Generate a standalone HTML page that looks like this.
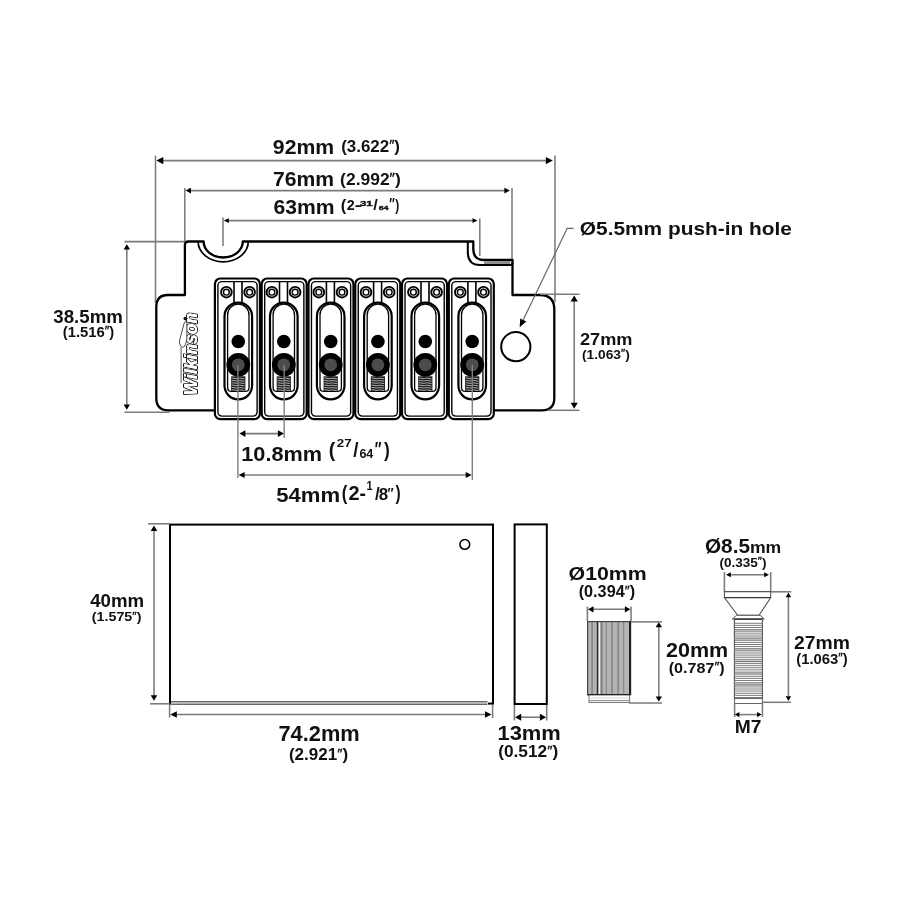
<!DOCTYPE html>
<html><head><meta charset="utf-8"><style>
html,body{margin:0;padding:0;background:#fff;}
svg{display:block;filter:grayscale(1);}
text{font-family:"Liberation Sans",sans-serif;}
</style></head><body>
<svg width="899" height="899" viewBox="0 0 899 899">
<rect width="899" height="899" fill="#fff"/>
<line x1="155.5" y1="155.5" x2="155.5" y2="303" stroke="#7b7b7b" stroke-width="1.55" />
<line x1="555.0" y1="155.5" x2="555.0" y2="302" stroke="#7b7b7b" stroke-width="1.55" />
<line x1="160.5" y1="160.6" x2="548.5999999999999" y2="160.6" stroke="#7b7b7b" stroke-width="1.55" />
<polygon points="156.30,160.60 163.30,157.00 163.30,164.20" fill="#000"/>
<polygon points="552.80,160.60 545.80,157.00 545.80,164.20" fill="#000"/>
<line x1="184.8" y1="188" x2="184.8" y2="242" stroke="#7b7b7b" stroke-width="1.55" />
<line x1="512.0" y1="188" x2="512.0" y2="260" stroke="#7b7b7b" stroke-width="1.55" />
<line x1="188.8" y1="190.6" x2="506.59999999999997" y2="190.6" stroke="#7b7b7b" stroke-width="1.55" />
<polygon points="185.50,190.60 191.00,187.80 191.00,193.40" fill="#000"/>
<polygon points="509.90,190.60 504.40,187.80 504.40,193.40" fill="#000"/>
<line x1="223.0" y1="217.5" x2="223.0" y2="246" stroke="#7b7b7b" stroke-width="1.55" />
<line x1="479.8" y1="218.5" x2="479.8" y2="256" stroke="#7b7b7b" stroke-width="1.55" />
<line x1="226.8" y1="220.6" x2="474.5" y2="220.6" stroke="#7b7b7b" stroke-width="1.55" />
<polygon points="223.80,220.60 228.80,218.20 228.80,223.00" fill="#000"/>
<polygon points="477.50,220.60 472.50,218.20 472.50,223.00" fill="#000"/>
<path d="M 215,410.3 L 168,410.3 Q 156.3,410.3 156.3,398 L 156.3,307 Q 156.3,295 168,295 L 184.9,295 L 184.9,245 Q 184.9,241.5 188.5,241.5 L 203.6,241.5 A 19.6 16.0 0 0 0 242.8,241.5 L 473.3,241.5 L 473.3,249 Q 473.3,260 484,260 L 512.5,260 L 512.5,295 L 540,295 Q 554.3,295 554.3,309.5 L 554.3,398 Q 554.3,410.3 542,410.3 L 494,410.3" fill="#fff" stroke="#000" stroke-width="2.3" stroke-linejoin="round"/>
<path d="M 198.1,241.5 A 25.1 20.3 0 0 0 248.3,241.5" fill="none" stroke="#000" stroke-width="1.7"/>
<path d="M 467.8,241.5 L 467.8,252 Q 467.8,265 480,265 L 510,265 Q 512.5,265 512.5,262.5" fill="none" stroke="#000" stroke-width="2"/>
<rect x="484" y="261.3" width="26" height="2.6" fill="#8a8a8a"/>
<rect x="214.90" y="278.5" width="45.0" height="140.7" rx="5.5" fill="#fff" stroke="#000" stroke-width="2.2"/>
<rect x="217.90" y="281.6" width="39.2" height="134.5" rx="4" fill="none" stroke="#000" stroke-width="1.4"/>
<circle cx="226.40" cy="292.2" r="5.3" fill="#fff" stroke="#000" stroke-width="1.9"/>
<circle cx="226.40" cy="292.2" r="2.9" fill="#fff" stroke="#000" stroke-width="1.4"/>
<circle cx="249.60" cy="292.2" r="5.3" fill="#fff" stroke="#000" stroke-width="1.9"/>
<circle cx="249.60" cy="292.2" r="2.9" fill="#fff" stroke="#000" stroke-width="1.4"/>
<line x1="234.00" y1="281.6" x2="234.00" y2="302.5" stroke="#000" stroke-width="1.6"/>
<line x1="242.00" y1="281.6" x2="242.00" y2="302.5" stroke="#000" stroke-width="1.6"/>
<rect x="224.50" y="302.6" width="27.60" height="96.80" rx="13.8" fill="#fff" stroke="#000" stroke-width="2.2"/>
<path d="M 227.60,314.90 A 10.7 10.7 0 0 1 249.00,314.90 L 249.00,387.4 Q 249.00,391.4 245.00,391.4 L 231.60,391.4 Q 227.60,391.4 227.60,387.4 Z" fill="#fff" stroke="#000" stroke-width="1.3"/>
<rect x="231.20" y="376.3" width="14.2" height="14.8" fill="#1c1c1c"/>
<path d="M 232.00,378.00 L 237.20,378.70 L 239.70,378.10 L 244.60,378.90" fill="none" stroke="#d0d0d0" stroke-width="0.8"/>
<path d="M 232.00,380.35 L 237.20,381.05 L 239.70,380.45 L 244.60,381.25" fill="none" stroke="#d0d0d0" stroke-width="0.8"/>
<path d="M 232.00,382.70 L 237.20,383.40 L 239.70,382.80 L 244.60,383.60" fill="none" stroke="#d0d0d0" stroke-width="0.8"/>
<path d="M 232.00,385.05 L 237.20,385.75 L 239.70,385.15 L 244.60,385.95" fill="none" stroke="#d0d0d0" stroke-width="0.8"/>
<path d="M 232.00,387.40 L 237.20,388.10 L 239.70,387.50 L 244.60,388.30" fill="none" stroke="#d0d0d0" stroke-width="0.8"/>
<path d="M 232.00,389.75 L 237.20,390.45 L 239.70,389.85 L 244.60,390.65" fill="none" stroke="#d0d0d0" stroke-width="0.8"/>
<circle cx="238.30" cy="341.5" r="6.8" fill="#000"/>
<circle cx="238.30" cy="364.8" r="11.9" fill="#000"/>
<circle cx="238.30" cy="364.8" r="6.4" fill="#4c4c4c"/>
<rect x="261.68" y="278.5" width="45.0" height="140.7" rx="5.5" fill="#fff" stroke="#000" stroke-width="2.2"/>
<rect x="264.68" y="281.6" width="39.2" height="134.5" rx="4" fill="none" stroke="#000" stroke-width="1.4"/>
<circle cx="271.90" cy="292.2" r="5.3" fill="#fff" stroke="#000" stroke-width="1.9"/>
<circle cx="271.90" cy="292.2" r="2.9" fill="#fff" stroke="#000" stroke-width="1.4"/>
<circle cx="295.10" cy="292.2" r="5.3" fill="#fff" stroke="#000" stroke-width="1.9"/>
<circle cx="295.10" cy="292.2" r="2.9" fill="#fff" stroke="#000" stroke-width="1.4"/>
<line x1="279.50" y1="281.6" x2="279.50" y2="302.5" stroke="#000" stroke-width="1.6"/>
<line x1="287.50" y1="281.6" x2="287.50" y2="302.5" stroke="#000" stroke-width="1.6"/>
<rect x="270.00" y="302.6" width="27.60" height="96.80" rx="13.8" fill="#fff" stroke="#000" stroke-width="2.2"/>
<path d="M 273.10,314.90 A 10.7 10.7 0 0 1 294.50,314.90 L 294.50,387.4 Q 294.50,391.4 290.50,391.4 L 277.10,391.4 Q 273.10,391.4 273.10,387.4 Z" fill="#fff" stroke="#000" stroke-width="1.3"/>
<rect x="276.70" y="376.3" width="14.2" height="14.8" fill="#1c1c1c"/>
<path d="M 277.50,378.00 L 282.70,378.70 L 285.20,378.10 L 290.10,378.90" fill="none" stroke="#d0d0d0" stroke-width="0.8"/>
<path d="M 277.50,380.35 L 282.70,381.05 L 285.20,380.45 L 290.10,381.25" fill="none" stroke="#d0d0d0" stroke-width="0.8"/>
<path d="M 277.50,382.70 L 282.70,383.40 L 285.20,382.80 L 290.10,383.60" fill="none" stroke="#d0d0d0" stroke-width="0.8"/>
<path d="M 277.50,385.05 L 282.70,385.75 L 285.20,385.15 L 290.10,385.95" fill="none" stroke="#d0d0d0" stroke-width="0.8"/>
<path d="M 277.50,387.40 L 282.70,388.10 L 285.20,387.50 L 290.10,388.30" fill="none" stroke="#d0d0d0" stroke-width="0.8"/>
<path d="M 277.50,389.75 L 282.70,390.45 L 285.20,389.85 L 290.10,390.65" fill="none" stroke="#d0d0d0" stroke-width="0.8"/>
<circle cx="283.80" cy="341.5" r="6.8" fill="#000"/>
<circle cx="283.80" cy="364.8" r="11.9" fill="#000"/>
<circle cx="283.80" cy="364.8" r="6.4" fill="#4c4c4c"/>
<rect x="308.46" y="278.5" width="45.0" height="140.7" rx="5.5" fill="#fff" stroke="#000" stroke-width="2.2"/>
<rect x="311.46" y="281.6" width="39.2" height="134.5" rx="4" fill="none" stroke="#000" stroke-width="1.4"/>
<circle cx="318.80" cy="292.2" r="5.3" fill="#fff" stroke="#000" stroke-width="1.9"/>
<circle cx="318.80" cy="292.2" r="2.9" fill="#fff" stroke="#000" stroke-width="1.4"/>
<circle cx="342.00" cy="292.2" r="5.3" fill="#fff" stroke="#000" stroke-width="1.9"/>
<circle cx="342.00" cy="292.2" r="2.9" fill="#fff" stroke="#000" stroke-width="1.4"/>
<line x1="326.40" y1="281.6" x2="326.40" y2="302.5" stroke="#000" stroke-width="1.6"/>
<line x1="334.40" y1="281.6" x2="334.40" y2="302.5" stroke="#000" stroke-width="1.6"/>
<rect x="316.90" y="302.6" width="27.60" height="96.80" rx="13.8" fill="#fff" stroke="#000" stroke-width="2.2"/>
<path d="M 320.00,314.90 A 10.7 10.7 0 0 1 341.40,314.90 L 341.40,387.4 Q 341.40,391.4 337.40,391.4 L 324.00,391.4 Q 320.00,391.4 320.00,387.4 Z" fill="#fff" stroke="#000" stroke-width="1.3"/>
<rect x="323.60" y="376.3" width="14.2" height="14.8" fill="#1c1c1c"/>
<path d="M 324.40,378.00 L 329.60,378.70 L 332.10,378.10 L 337.00,378.90" fill="none" stroke="#d0d0d0" stroke-width="0.8"/>
<path d="M 324.40,380.35 L 329.60,381.05 L 332.10,380.45 L 337.00,381.25" fill="none" stroke="#d0d0d0" stroke-width="0.8"/>
<path d="M 324.40,382.70 L 329.60,383.40 L 332.10,382.80 L 337.00,383.60" fill="none" stroke="#d0d0d0" stroke-width="0.8"/>
<path d="M 324.40,385.05 L 329.60,385.75 L 332.10,385.15 L 337.00,385.95" fill="none" stroke="#d0d0d0" stroke-width="0.8"/>
<path d="M 324.40,387.40 L 329.60,388.10 L 332.10,387.50 L 337.00,388.30" fill="none" stroke="#d0d0d0" stroke-width="0.8"/>
<path d="M 324.40,389.75 L 329.60,390.45 L 332.10,389.85 L 337.00,390.65" fill="none" stroke="#d0d0d0" stroke-width="0.8"/>
<circle cx="330.70" cy="341.5" r="6.8" fill="#000"/>
<circle cx="330.70" cy="364.8" r="11.9" fill="#000"/>
<circle cx="330.70" cy="364.8" r="6.4" fill="#4c4c4c"/>
<rect x="355.24" y="278.5" width="45.0" height="140.7" rx="5.5" fill="#fff" stroke="#000" stroke-width="2.2"/>
<rect x="358.24" y="281.6" width="39.2" height="134.5" rx="4" fill="none" stroke="#000" stroke-width="1.4"/>
<circle cx="366.00" cy="292.2" r="5.3" fill="#fff" stroke="#000" stroke-width="1.9"/>
<circle cx="366.00" cy="292.2" r="2.9" fill="#fff" stroke="#000" stroke-width="1.4"/>
<circle cx="389.20" cy="292.2" r="5.3" fill="#fff" stroke="#000" stroke-width="1.9"/>
<circle cx="389.20" cy="292.2" r="2.9" fill="#fff" stroke="#000" stroke-width="1.4"/>
<line x1="373.60" y1="281.6" x2="373.60" y2="302.5" stroke="#000" stroke-width="1.6"/>
<line x1="381.60" y1="281.6" x2="381.60" y2="302.5" stroke="#000" stroke-width="1.6"/>
<rect x="364.10" y="302.6" width="27.60" height="96.80" rx="13.8" fill="#fff" stroke="#000" stroke-width="2.2"/>
<path d="M 367.20,314.90 A 10.7 10.7 0 0 1 388.60,314.90 L 388.60,387.4 Q 388.60,391.4 384.60,391.4 L 371.20,391.4 Q 367.20,391.4 367.20,387.4 Z" fill="#fff" stroke="#000" stroke-width="1.3"/>
<rect x="370.80" y="376.3" width="14.2" height="14.8" fill="#1c1c1c"/>
<path d="M 371.60,378.00 L 376.80,378.70 L 379.30,378.10 L 384.20,378.90" fill="none" stroke="#d0d0d0" stroke-width="0.8"/>
<path d="M 371.60,380.35 L 376.80,381.05 L 379.30,380.45 L 384.20,381.25" fill="none" stroke="#d0d0d0" stroke-width="0.8"/>
<path d="M 371.60,382.70 L 376.80,383.40 L 379.30,382.80 L 384.20,383.60" fill="none" stroke="#d0d0d0" stroke-width="0.8"/>
<path d="M 371.60,385.05 L 376.80,385.75 L 379.30,385.15 L 384.20,385.95" fill="none" stroke="#d0d0d0" stroke-width="0.8"/>
<path d="M 371.60,387.40 L 376.80,388.10 L 379.30,387.50 L 384.20,388.30" fill="none" stroke="#d0d0d0" stroke-width="0.8"/>
<path d="M 371.60,389.75 L 376.80,390.45 L 379.30,389.85 L 384.20,390.65" fill="none" stroke="#d0d0d0" stroke-width="0.8"/>
<circle cx="377.90" cy="341.5" r="6.8" fill="#000"/>
<circle cx="377.90" cy="364.8" r="11.9" fill="#000"/>
<circle cx="377.90" cy="364.8" r="6.4" fill="#4c4c4c"/>
<rect x="402.02" y="278.5" width="45.0" height="140.7" rx="5.5" fill="#fff" stroke="#000" stroke-width="2.2"/>
<rect x="405.02" y="281.6" width="39.2" height="134.5" rx="4" fill="none" stroke="#000" stroke-width="1.4"/>
<circle cx="413.40" cy="292.2" r="5.3" fill="#fff" stroke="#000" stroke-width="1.9"/>
<circle cx="413.40" cy="292.2" r="2.9" fill="#fff" stroke="#000" stroke-width="1.4"/>
<circle cx="436.60" cy="292.2" r="5.3" fill="#fff" stroke="#000" stroke-width="1.9"/>
<circle cx="436.60" cy="292.2" r="2.9" fill="#fff" stroke="#000" stroke-width="1.4"/>
<line x1="421.00" y1="281.6" x2="421.00" y2="302.5" stroke="#000" stroke-width="1.6"/>
<line x1="429.00" y1="281.6" x2="429.00" y2="302.5" stroke="#000" stroke-width="1.6"/>
<rect x="411.50" y="302.6" width="27.60" height="96.80" rx="13.8" fill="#fff" stroke="#000" stroke-width="2.2"/>
<path d="M 414.60,314.90 A 10.7 10.7 0 0 1 436.00,314.90 L 436.00,387.4 Q 436.00,391.4 432.00,391.4 L 418.60,391.4 Q 414.60,391.4 414.60,387.4 Z" fill="#fff" stroke="#000" stroke-width="1.3"/>
<rect x="418.20" y="376.3" width="14.2" height="14.8" fill="#1c1c1c"/>
<path d="M 419.00,378.00 L 424.20,378.70 L 426.70,378.10 L 431.60,378.90" fill="none" stroke="#d0d0d0" stroke-width="0.8"/>
<path d="M 419.00,380.35 L 424.20,381.05 L 426.70,380.45 L 431.60,381.25" fill="none" stroke="#d0d0d0" stroke-width="0.8"/>
<path d="M 419.00,382.70 L 424.20,383.40 L 426.70,382.80 L 431.60,383.60" fill="none" stroke="#d0d0d0" stroke-width="0.8"/>
<path d="M 419.00,385.05 L 424.20,385.75 L 426.70,385.15 L 431.60,385.95" fill="none" stroke="#d0d0d0" stroke-width="0.8"/>
<path d="M 419.00,387.40 L 424.20,388.10 L 426.70,387.50 L 431.60,388.30" fill="none" stroke="#d0d0d0" stroke-width="0.8"/>
<path d="M 419.00,389.75 L 424.20,390.45 L 426.70,389.85 L 431.60,390.65" fill="none" stroke="#d0d0d0" stroke-width="0.8"/>
<circle cx="425.30" cy="341.5" r="6.8" fill="#000"/>
<circle cx="425.30" cy="364.8" r="11.9" fill="#000"/>
<circle cx="425.30" cy="364.8" r="6.4" fill="#4c4c4c"/>
<rect x="448.80" y="278.5" width="45.0" height="140.7" rx="5.5" fill="#fff" stroke="#000" stroke-width="2.2"/>
<rect x="451.80" y="281.6" width="39.2" height="134.5" rx="4" fill="none" stroke="#000" stroke-width="1.4"/>
<circle cx="460.30" cy="292.2" r="5.3" fill="#fff" stroke="#000" stroke-width="1.9"/>
<circle cx="460.30" cy="292.2" r="2.9" fill="#fff" stroke="#000" stroke-width="1.4"/>
<circle cx="483.50" cy="292.2" r="5.3" fill="#fff" stroke="#000" stroke-width="1.9"/>
<circle cx="483.50" cy="292.2" r="2.9" fill="#fff" stroke="#000" stroke-width="1.4"/>
<line x1="467.90" y1="281.6" x2="467.90" y2="302.5" stroke="#000" stroke-width="1.6"/>
<line x1="475.90" y1="281.6" x2="475.90" y2="302.5" stroke="#000" stroke-width="1.6"/>
<rect x="458.40" y="302.6" width="27.60" height="96.80" rx="13.8" fill="#fff" stroke="#000" stroke-width="2.2"/>
<path d="M 461.50,314.90 A 10.7 10.7 0 0 1 482.90,314.90 L 482.90,387.4 Q 482.90,391.4 478.90,391.4 L 465.50,391.4 Q 461.50,391.4 461.50,387.4 Z" fill="#fff" stroke="#000" stroke-width="1.3"/>
<rect x="465.10" y="376.3" width="14.2" height="14.8" fill="#1c1c1c"/>
<path d="M 465.90,378.00 L 471.10,378.70 L 473.60,378.10 L 478.50,378.90" fill="none" stroke="#d0d0d0" stroke-width="0.8"/>
<path d="M 465.90,380.35 L 471.10,381.05 L 473.60,380.45 L 478.50,381.25" fill="none" stroke="#d0d0d0" stroke-width="0.8"/>
<path d="M 465.90,382.70 L 471.10,383.40 L 473.60,382.80 L 478.50,383.60" fill="none" stroke="#d0d0d0" stroke-width="0.8"/>
<path d="M 465.90,385.05 L 471.10,385.75 L 473.60,385.15 L 478.50,385.95" fill="none" stroke="#d0d0d0" stroke-width="0.8"/>
<path d="M 465.90,387.40 L 471.10,388.10 L 473.60,387.50 L 478.50,388.30" fill="none" stroke="#d0d0d0" stroke-width="0.8"/>
<path d="M 465.90,389.75 L 471.10,390.45 L 473.60,389.85 L 478.50,390.65" fill="none" stroke="#d0d0d0" stroke-width="0.8"/>
<circle cx="472.20" cy="341.5" r="6.8" fill="#000"/>
<circle cx="472.20" cy="364.8" r="11.9" fill="#000"/>
<circle cx="472.20" cy="364.8" r="6.4" fill="#4c4c4c"/>
<circle cx="515.8" cy="346.7" r="14.6" fill="#fff" stroke="#000" stroke-width="2"/>
<g transform="translate(197.4,395.3) rotate(-90)"><text x="0" y="0" font-size="18" font-weight="bold" font-style="italic" fill="#fff" stroke="#1e1e1e" stroke-width="2.0" stroke-linejoin="round" paint-order="stroke" textLength="82.5" lengthAdjust="spacingAndGlyphs">Wilkinson</text></g>
<g transform="translate(197.4,395.3) rotate(-90)"><text x="0" y="0" font-size="18" font-weight="bold" font-style="italic" fill="#fff" textLength="82.5" lengthAdjust="spacingAndGlyphs">Wilkinson</text></g>
<path d="M 184.4,322.3 Q 185.5,321.2 186.8,322.6 L 186.9,338.5 Q 186.6,342 184.6,346.3 Q 182.8,348.2 181,346.5 Q 179,344 179.5,340.5 Z" fill="#fff" stroke="#333" stroke-width="0.9"/>
<line x1="181.1" y1="347.5" x2="181.1" y2="383" stroke="#444" stroke-width="0.9"/>
<circle cx="185.3" cy="318.6" r="1.8" fill="#111"/>
<line x1="124.5" y1="241.6" x2="184" y2="241.6" stroke="#7b7b7b" stroke-width="1.55" />
<line x1="124.5" y1="412.2" x2="169.5" y2="412.2" stroke="#7b7b7b" stroke-width="1.55" />
<line x1="126.8" y1="247.44" x2="126.8" y2="406.56" stroke="#7b7b7b" stroke-width="1.55" />
<polygon points="126.80,244.20 123.60,249.60 130.00,249.60" fill="#000"/>
<polygon points="126.80,409.80 123.60,404.40 130.00,404.40" fill="#000"/>
<line x1="540" y1="294.3" x2="579.5" y2="294.3" stroke="#7b7b7b" stroke-width="1.55" />
<line x1="548" y1="410.3" x2="579.5" y2="410.3" stroke="#7b7b7b" stroke-width="1.55" />
<line x1="574.2" y1="299.20000000000005" x2="574.2" y2="405.2" stroke="#7b7b7b" stroke-width="1.55" />
<polygon points="574.20,295.60 570.60,301.60 577.80,301.60" fill="#000"/>
<polygon points="574.20,408.80 570.60,402.80 577.80,402.80" fill="#000"/>
<path d="M 573.6,228.3 L 567.2,228.3 L 523.3,319.8" fill="none" stroke="#666" stroke-width="1.2" stroke-linejoin="miter"/>
<polygon points="519.7,327.3 520.18,318.44 526.31,321.38" fill="#000"/>
<line x1="237.9" y1="364.8" x2="237.9" y2="478" stroke="#808080" stroke-width="1.4" />
<line x1="284.2" y1="364.8" x2="284.2" y2="438" stroke="#808080" stroke-width="1.4" />
<line x1="472.3" y1="364.8" x2="472.3" y2="480" stroke="#808080" stroke-width="1.4" />
<line x1="243.0" y1="433.6" x2="280.29999999999995" y2="433.6" stroke="#7b7b7b" stroke-width="1.55" />
<polygon points="239.40,433.60 245.40,430.20 245.40,437.00" fill="#000"/>
<polygon points="283.90,433.60 277.90,430.20 277.90,437.00" fill="#000"/>
<line x1="242.2" y1="475.0" x2="468.09999999999997" y2="475.0" stroke="#7b7b7b" stroke-width="1.55" />
<polygon points="238.60,475.00 244.60,472.00 244.60,478.00" fill="#000"/>
<polygon points="471.70,475.00 465.70,472.00 465.70,478.00" fill="#000"/>
<rect x="170" y="524.6" width="323" height="179" fill="#fff" stroke="#000" stroke-width="2"/>
<rect x="171" y="700.6" width="317" height="4.4" fill="#fff"/>
<line x1="171" y1="701.7" x2="487.5" y2="701.7" stroke="#6a6a6a" stroke-width="1.5"/>
<line x1="171" y1="704.3" x2="487.5" y2="704.3" stroke="#6a6a6a" stroke-width="1.5"/>
<circle cx="464.8" cy="544.4" r="4.9" fill="#fff" stroke="#000" stroke-width="1.5"/>
<line x1="148" y1="523.8" x2="170" y2="523.8" stroke="#7b7b7b" stroke-width="1.55" />
<line x1="150" y1="703.8" x2="170" y2="703.8" stroke="#7b7b7b" stroke-width="1.55" />
<line x1="154.0" y1="528.9" x2="154.0" y2="697.5" stroke="#7b7b7b" stroke-width="1.55" />
<polygon points="154.00,525.60 150.70,531.10 157.30,531.10" fill="#000"/>
<polygon points="154.00,700.80 150.70,695.30 157.30,695.30" fill="#000"/>
<line x1="169.6" y1="705" x2="169.6" y2="717.5" stroke="#7b7b7b" stroke-width="1.55" />
<line x1="492.6" y1="705" x2="492.6" y2="718" stroke="#7b7b7b" stroke-width="1.55" />
<line x1="174.20000000000002" y1="714.5" x2="487.6" y2="714.5" stroke="#7b7b7b" stroke-width="1.55" />
<polygon points="170.30,714.50 176.80,711.20 176.80,717.80" fill="#000"/>
<polygon points="491.50,714.50 485.00,711.20 485.00,717.80" fill="#000"/>
<rect x="514.6" y="524.4" width="32.2" height="179.6" fill="#fff" stroke="#000" stroke-width="2"/>
<line x1="514.4" y1="705" x2="514.4" y2="720.5" stroke="#7b7b7b" stroke-width="1.55" />
<line x1="546.7" y1="705" x2="546.7" y2="720.5" stroke="#7b7b7b" stroke-width="1.55" />
<line x1="518.72" y1="717.2" x2="542.38" y2="717.2" stroke="#7b7b7b" stroke-width="1.55" />
<polygon points="515.00,717.20 521.20,713.70 521.20,720.70" fill="#000"/>
<polygon points="546.10,717.20 539.90,713.70 539.90,720.70" fill="#000"/>
<rect x="587.6" y="621.6" width="43.0" height="73.1" fill="#b4b4b4"/>
<rect x="591.2" y="621.6" width="1.80" height="73.1" fill="#8a8a8a"/>
<rect x="596.8" y="621.6" width="1.50" height="73.1" fill="#2a2a2a"/>
<rect x="598.7" y="621.6" width="1.50" height="73.1" fill="#f4f4f4"/>
<rect x="600.7" y="621.6" width="1.80" height="73.1" fill="#7c7c7c"/>
<rect x="605.6" y="621.6" width="1.40" height="73.1" fill="#8e8e8e"/>
<rect x="611.2" y="621.6" width="1.80" height="73.1" fill="#8a8a8a"/>
<rect x="617.3" y="621.6" width="1.80" height="73.1" fill="#8a8a8a"/>
<rect x="622.9" y="621.6" width="1.40" height="73.1" fill="#8e8e8e"/>
<rect x="587.6" y="621.6" width="43.0" height="73.1" fill="none" stroke="#444" stroke-width="1.2"/>
<line x1="629.9" y1="621.6" x2="629.9" y2="694.7" stroke="#111" stroke-width="1.6"/>
<rect x="589.0" y="694.7" width="40.6" height="7.8" fill="#fff" stroke="#777" stroke-width="1"/>
<line x1="589.5" y1="698.0" x2="629" y2="698.0" stroke="#ccc" stroke-width="0.8"/>
<line x1="589.5" y1="700.6" x2="629" y2="700.6" stroke="#777" stroke-width="0.9"/>
<line x1="587.6" y1="694.7" x2="630.6" y2="694.7" stroke="#222" stroke-width="1.3"/>
<line x1="587.4" y1="606.5" x2="587.4" y2="621" stroke="#7b7b7b" stroke-width="1.55" />
<line x1="631.0" y1="606.5" x2="631.0" y2="621" stroke="#7b7b7b" stroke-width="1.55" />
<line x1="591.3" y1="609.3" x2="627.1" y2="609.3" stroke="#7b7b7b" stroke-width="1.55" />
<polygon points="588.00,609.30 593.50,606.20 593.50,612.40" fill="#000"/>
<polygon points="630.40,609.30 624.90,606.20 624.90,612.40" fill="#000"/>
<line x1="631" y1="621.9" x2="662" y2="621.9" stroke="#7b7b7b" stroke-width="1.55" />
<line x1="629" y1="703.0" x2="662" y2="703.0" stroke="#7b7b7b" stroke-width="1.55" />
<line x1="658.8" y1="625.3" x2="658.8" y2="698.6" stroke="#7b7b7b" stroke-width="1.55" />
<polygon points="658.80,622.30 655.60,627.30 662.00,627.30" fill="#000"/>
<polygon points="658.80,701.60 655.60,696.60 662.00,696.60" fill="#000"/>
<line x1="724.4" y1="572" x2="724.4" y2="591.6" stroke="#7b7b7b" stroke-width="1.55" />
<line x1="770.7" y1="572" x2="770.7" y2="591.6" stroke="#7b7b7b" stroke-width="1.55" />
<line x1="728.88" y1="574.7" x2="766.12" y2="574.7" stroke="#7b7b7b" stroke-width="1.55" />
<polygon points="726.00,574.70 730.80,572.20 730.80,577.20" fill="#000"/>
<polygon points="769.00,574.70 764.20,572.20 764.20,577.20" fill="#000"/>
<line x1="770.7" y1="591.8" x2="791.3" y2="591.8" stroke="#7b7b7b" stroke-width="1.55" />
<line x1="762.5" y1="702.3" x2="791" y2="702.3" stroke="#7b7b7b" stroke-width="1.55" />
<line x1="788.4" y1="595.28" x2="788.4" y2="698.12" stroke="#7b7b7b" stroke-width="1.55" />
<polygon points="788.40,592.40 785.70,597.20 791.10,597.20" fill="#000"/>
<polygon points="788.40,701.00 785.70,696.20 791.10,696.20" fill="#000"/>
<path d="M 724.4,591.6 L 770.7,591.6 L 770.7,597.6 L 759.0,615.3 L 737.7,615.3 L 724.4,597.6 Z" fill="#fff" stroke="#555" stroke-width="1.1"/>
<line x1="724.4" y1="597.6" x2="770.7" y2="597.6" stroke="#333" stroke-width="1.4"/>
<path d="M 732.3,619 L 736.5,615.3 L 760.2,615.3 L 764.3,619 Z" fill="#fff" stroke="#555" stroke-width="1"/>
<rect x="734.4" y="619.2" width="28" height="80.8" fill="#fff" stroke="#555" stroke-width="1.1"/>
<rect x="734.8" y="629.0" width="27.2" height="2.0" fill="#cfcfcf"/>
<rect x="734.8" y="637.5" width="27.2" height="2.5" fill="#cfcfcf"/>
<rect x="734.8" y="648.5" width="27.2" height="2.5" fill="#cfcfcf"/>
<rect x="734.8" y="660.0" width="27.2" height="2.5" fill="#cfcfcf"/>
<rect x="734.8" y="672.0" width="27.2" height="2.0" fill="#cfcfcf"/>
<rect x="734.8" y="683.0" width="27.2" height="3.0" fill="#cfcfcf"/>
<line x1="734.8" y1="623.3" x2="762.0" y2="623.3" stroke="#6e6e6e" stroke-width="0.9"/>
<line x1="734.8" y1="625.4" x2="762.0" y2="625.4" stroke="#6e6e6e" stroke-width="0.9"/>
<line x1="734.8" y1="627.5" x2="762.0" y2="627.5" stroke="#6e6e6e" stroke-width="0.9"/>
<line x1="734.8" y1="629.7" x2="762.0" y2="629.7" stroke="#6e6e6e" stroke-width="0.9"/>
<line x1="734.8" y1="631.8" x2="762.0" y2="631.8" stroke="#6e6e6e" stroke-width="0.9"/>
<line x1="734.8" y1="633.9" x2="762.0" y2="633.9" stroke="#6e6e6e" stroke-width="0.9"/>
<line x1="734.8" y1="636.0" x2="762.0" y2="636.0" stroke="#6e6e6e" stroke-width="0.9"/>
<line x1="734.8" y1="638.1" x2="762.0" y2="638.1" stroke="#6e6e6e" stroke-width="0.9"/>
<line x1="734.8" y1="640.3" x2="762.0" y2="640.3" stroke="#6e6e6e" stroke-width="0.9"/>
<line x1="734.8" y1="642.4" x2="762.0" y2="642.4" stroke="#6e6e6e" stroke-width="0.9"/>
<line x1="734.8" y1="644.5" x2="762.0" y2="644.5" stroke="#6e6e6e" stroke-width="0.9"/>
<line x1="734.8" y1="646.6" x2="762.0" y2="646.6" stroke="#6e6e6e" stroke-width="0.9"/>
<line x1="734.8" y1="648.7" x2="762.0" y2="648.7" stroke="#6e6e6e" stroke-width="0.9"/>
<line x1="734.8" y1="650.9" x2="762.0" y2="650.9" stroke="#6e6e6e" stroke-width="0.9"/>
<line x1="734.8" y1="653.0" x2="762.0" y2="653.0" stroke="#6e6e6e" stroke-width="0.9"/>
<line x1="734.8" y1="655.1" x2="762.0" y2="655.1" stroke="#6e6e6e" stroke-width="0.9"/>
<line x1="734.8" y1="657.2" x2="762.0" y2="657.2" stroke="#6e6e6e" stroke-width="0.9"/>
<line x1="734.8" y1="659.3" x2="762.0" y2="659.3" stroke="#6e6e6e" stroke-width="0.9"/>
<line x1="734.8" y1="661.5" x2="762.0" y2="661.5" stroke="#6e6e6e" stroke-width="0.9"/>
<line x1="734.8" y1="663.6" x2="762.0" y2="663.6" stroke="#6e6e6e" stroke-width="0.9"/>
<line x1="734.8" y1="665.7" x2="762.0" y2="665.7" stroke="#6e6e6e" stroke-width="0.9"/>
<line x1="734.8" y1="667.8" x2="762.0" y2="667.8" stroke="#6e6e6e" stroke-width="0.9"/>
<line x1="734.8" y1="669.9" x2="762.0" y2="669.9" stroke="#6e6e6e" stroke-width="0.9"/>
<line x1="734.8" y1="672.1" x2="762.0" y2="672.1" stroke="#6e6e6e" stroke-width="0.9"/>
<line x1="734.8" y1="674.2" x2="762.0" y2="674.2" stroke="#6e6e6e" stroke-width="0.9"/>
<line x1="734.8" y1="676.3" x2="762.0" y2="676.3" stroke="#6e6e6e" stroke-width="0.9"/>
<line x1="734.8" y1="678.4" x2="762.0" y2="678.4" stroke="#6e6e6e" stroke-width="0.9"/>
<line x1="734.8" y1="680.5" x2="762.0" y2="680.5" stroke="#6e6e6e" stroke-width="0.9"/>
<line x1="734.8" y1="682.7" x2="762.0" y2="682.7" stroke="#6e6e6e" stroke-width="0.9"/>
<line x1="734.8" y1="684.8" x2="762.0" y2="684.8" stroke="#6e6e6e" stroke-width="0.9"/>
<line x1="734.8" y1="686.9" x2="762.0" y2="686.9" stroke="#6e6e6e" stroke-width="0.9"/>
<line x1="734.8" y1="689.0" x2="762.0" y2="689.0" stroke="#6e6e6e" stroke-width="0.9"/>
<line x1="734.8" y1="691.1" x2="762.0" y2="691.1" stroke="#6e6e6e" stroke-width="0.9"/>
<line x1="734.8" y1="693.3" x2="762.0" y2="693.3" stroke="#6e6e6e" stroke-width="0.9"/>
<line x1="734.8" y1="695.4" x2="762.0" y2="695.4" stroke="#6e6e6e" stroke-width="0.9"/>
<line x1="734.8" y1="697.5" x2="762.0" y2="697.5" stroke="#6e6e6e" stroke-width="0.9"/>
<line x1="734.4" y1="619.2" x2="762.4" y2="619.2" stroke="#333" stroke-width="1.3"/>
<rect x="734.6" y="698.5" width="27.8" height="5" fill="#fff" stroke="#666" stroke-width="1"/>
<line x1="734.6" y1="703.5" x2="734.6" y2="717" stroke="#7b7b7b" stroke-width="1.55" />
<line x1="762.4" y1="703.5" x2="762.4" y2="717" stroke="#7b7b7b" stroke-width="1.55" />
<line x1="737.56" y1="714.6" x2="758.94" y2="714.6" stroke="#7b7b7b" stroke-width="1.55" />
<polygon points="734.80,714.60 739.40,712.00 739.40,717.20" fill="#000"/>
<polygon points="761.70,714.60 757.10,712.00 757.10,717.20" fill="#000"/>
<text x="272.86" y="153.9" font-size="20.35" font-weight="bold" fill="#111" textLength="61.29" lengthAdjust="spacingAndGlyphs" >92mm</text>
<text x="341.18" y="152.3" font-size="16.5" font-weight="bold" fill="#111" textLength="58.76" lengthAdjust="spacingAndGlyphs" >(3.622<tspan font-weight="normal" font-size="14.19" dy="-1.98" stroke="#111" stroke-width="0.35">″</tspan><tspan dy="1.98">)</tspan></text>
<text x="273.06" y="185.9" font-size="20.35" font-weight="bold" fill="#111" textLength="61.08" lengthAdjust="spacingAndGlyphs" >76mm</text>
<text x="340.14" y="184.6" font-size="16.5" font-weight="bold" fill="#111" textLength="60.60" lengthAdjust="spacingAndGlyphs" >(2.992<tspan font-weight="normal" font-size="14.19" dy="-1.98" stroke="#111" stroke-width="0.35">″</tspan><tspan dy="1.98">)</tspan></text>
<text x="273.56" y="213.5" font-size="20.35" font-weight="bold" fill="#111" textLength="61.08" lengthAdjust="spacingAndGlyphs" >63mm</text>
<text x="340.70" y="210.6" font-size="16.5" font-weight="bold" fill="#111" textLength="5.50" lengthAdjust="spacingAndGlyphs" >(</text>
<text x="346.80" y="210.3" font-size="14.8" font-weight="bold" fill="#111" textLength="7.93" lengthAdjust="spacingAndGlyphs" >2</text>
<text x="354.40" y="210.3" font-size="14.8" font-weight="bold" fill="#111" textLength="7.90" lengthAdjust="spacingAndGlyphs" >-</text>
<text x="359.96" y="205.5" font-size="7.4" font-weight="bold" fill="#111" textLength="12.70" lengthAdjust="spacingAndGlyphs" stroke="#111" stroke-width="0.35">31</text>
<text x="373.20" y="210.4" font-size="14.8" font-weight="bold" fill="#111" textLength="4.54" lengthAdjust="spacingAndGlyphs" >/</text>
<text x="378.70" y="210.2" font-size="6.2" font-weight="bold" fill="#111" textLength="9.84" lengthAdjust="spacingAndGlyphs" stroke="#111" stroke-width="0.4">64</text>
<text x="389.37" y="209.9" font-size="15.8" font-weight="bold" fill="#111" textLength="5.56" lengthAdjust="spacingAndGlyphs" >″</text>
<text x="395.30" y="210.6" font-size="16.5" font-weight="bold" fill="#111" textLength="3.96" lengthAdjust="spacingAndGlyphs" >)</text>
<text x="579.87" y="234.6" font-size="18.5" font-weight="bold" fill="#111" textLength="211.98" lengthAdjust="spacingAndGlyphs" >Ø5.5mm push-in hole</text>
<text x="53.37" y="322.8" font-size="18.2" font-weight="bold" fill="#111" textLength="69.50" lengthAdjust="spacingAndGlyphs" >38.5mm</text>
<text x="62.73" y="336.6" font-size="13.8" font-weight="bold" fill="#111" textLength="51.48" lengthAdjust="spacingAndGlyphs" >(1.516<tspan font-weight="normal" font-size="11.87" dy="-1.66" stroke="#111" stroke-width="0.35">″</tspan><tspan dy="1.66">)</tspan></text>
<text x="579.99" y="345.4" font-size="16.4" font-weight="bold" fill="#111" textLength="52.55" lengthAdjust="spacingAndGlyphs" >27mm</text>
<text x="581.95" y="358.7" font-size="13.1" font-weight="bold" fill="#111" textLength="47.79" lengthAdjust="spacingAndGlyphs" >(1.063<tspan font-weight="normal" font-size="11.27" dy="-1.57" stroke="#111" stroke-width="0.35">″</tspan><tspan dy="1.57">)</tspan></text>
<text x="241.33" y="460.9" font-size="20.2" font-weight="bold" fill="#111" textLength="80.66" lengthAdjust="spacingAndGlyphs" >10.8mm</text>
<text x="328.80" y="457.1" font-size="19.4" font-weight="bold" fill="#111" textLength="6.47" lengthAdjust="spacingAndGlyphs" >(</text>
<text x="336.80" y="447.1" font-size="11.75" font-weight="bold" fill="#111" textLength="14.89" lengthAdjust="spacingAndGlyphs" >27</text>
<text x="353.30" y="457.4" font-size="19.3" font-weight="bold" fill="#111" textLength="5.25" lengthAdjust="spacingAndGlyphs" >/</text>
<text x="359.40" y="457.7" font-size="13.4" font-weight="bold" fill="#111" textLength="13.91" lengthAdjust="spacingAndGlyphs" >64</text>
<text x="374.77" y="455.9" font-size="19.4" font-weight="bold" fill="#111" textLength="6.74" lengthAdjust="spacingAndGlyphs" >″</text>
<text x="384.10" y="457.1" font-size="19.4" font-weight="bold" fill="#111" textLength="5.82" lengthAdjust="spacingAndGlyphs" >)</text>
<text x="276.21" y="502.2" font-size="20.2" font-weight="bold" fill="#111" textLength="63.88" lengthAdjust="spacingAndGlyphs" >54mm</text>
<text x="341.67" y="499.6" font-size="20.2" font-weight="bold" fill="#111" textLength="5.61" lengthAdjust="spacingAndGlyphs" >(</text>
<text x="348.57" y="500.3" font-size="19.3" font-weight="bold" fill="#111" textLength="11.09" lengthAdjust="spacingAndGlyphs" >2</text>
<text x="359.60" y="500.3" font-size="19.3" font-weight="bold" fill="#111" textLength="6.42" lengthAdjust="spacingAndGlyphs" >-</text>
<text x="366.52" y="490.0" font-size="12.5" font-weight="bold" fill="#111" textLength="6.14" lengthAdjust="spacingAndGlyphs" >1</text>
<text x="374.90" y="500.2" font-size="18.5" font-weight="bold" fill="#111" textLength="4.73" lengthAdjust="spacingAndGlyphs" >/</text>
<text x="378.84" y="500.4" font-size="16.0" font-weight="bold" fill="#111" textLength="9.42" lengthAdjust="spacingAndGlyphs" >8</text>
<text x="387.48" y="497.7" font-size="13.8" font-weight="bold" fill="#111" textLength="6.08" lengthAdjust="spacingAndGlyphs" >″</text>
<text x="395.50" y="499.6" font-size="20.2" font-weight="bold" fill="#111" textLength="5.16" lengthAdjust="spacingAndGlyphs" >)</text>
<text x="90.20" y="606.5" font-size="18.3" font-weight="bold" fill="#111" textLength="53.88" lengthAdjust="spacingAndGlyphs" >40mm</text>
<text x="91.75" y="621.2" font-size="13.6" font-weight="bold" fill="#111" textLength="49.68" lengthAdjust="spacingAndGlyphs" >(1.575<tspan font-weight="normal" font-size="11.7" dy="-1.63" stroke="#111" stroke-width="0.35">″</tspan><tspan dy="1.63">)</tspan></text>
<text x="278.48" y="740.8" font-size="21.4" font-weight="bold" fill="#111" textLength="81.20" lengthAdjust="spacingAndGlyphs" >74.2mm</text>
<text x="288.91" y="759.7" font-size="15.6" font-weight="bold" fill="#111" textLength="59.18" lengthAdjust="spacingAndGlyphs" >(2.921<tspan font-weight="normal" font-size="13.42" dy="-1.87" stroke="#111" stroke-width="0.35">″</tspan><tspan dy="1.87">)</tspan></text>
<text x="497.46" y="740.2" font-size="21.1" font-weight="bold" fill="#111" textLength="63.36" lengthAdjust="spacingAndGlyphs" >13mm</text>
<text x="498.19" y="756.6" font-size="15.6" font-weight="bold" fill="#111" textLength="60.00" lengthAdjust="spacingAndGlyphs" >(0.512<tspan font-weight="normal" font-size="13.42" dy="-1.87" stroke="#111" stroke-width="0.35">″</tspan><tspan dy="1.87">)</tspan></text>
<text x="568.59" y="580.4" font-size="19.2" font-weight="bold" fill="#111" textLength="78.15" lengthAdjust="spacingAndGlyphs" >Ø10mm</text>
<text x="578.66" y="596.5" font-size="15.6" font-weight="bold" fill="#111" textLength="56.42" lengthAdjust="spacingAndGlyphs" >(0.394<tspan font-weight="normal" font-size="13.42" dy="-1.87" stroke="#111" stroke-width="0.35">″</tspan><tspan dy="1.87">)</tspan></text>
<text x="666.00" y="657.2" font-size="19.5" font-weight="bold" fill="#111" textLength="62.22" lengthAdjust="spacingAndGlyphs" >20mm</text>
<text x="668.73" y="672.6" font-size="15.0" font-weight="bold" fill="#111" textLength="56.01" lengthAdjust="spacingAndGlyphs" >(0.787<tspan font-weight="normal" font-size="12.9" dy="-1.8" stroke="#111" stroke-width="0.35">″</tspan><tspan dy="1.8">)</tspan></text>
<text x="704.94" y="553.0" font-size="19.6" font-weight="bold" fill="#111" textLength="45.07" lengthAdjust="spacingAndGlyphs" >Ø8.5</text>
<text x="749.91" y="553.0" font-size="16.1" font-weight="bold" fill="#111" textLength="31.28" lengthAdjust="spacingAndGlyphs" >mm</text>
<text x="719.40" y="566.8" font-size="12.4" font-weight="bold" fill="#111" textLength="47.16" lengthAdjust="spacingAndGlyphs" >(0.335<tspan font-weight="normal" font-size="10.66" dy="-1.49" stroke="#111" stroke-width="0.35">″</tspan><tspan dy="1.49">)</tspan></text>
<text x="794.03" y="649.1" font-size="18.1" font-weight="bold" fill="#111" textLength="55.87" lengthAdjust="spacingAndGlyphs" >27mm</text>
<text x="796.28" y="663.5" font-size="14.5" font-weight="bold" fill="#111" textLength="51.42" lengthAdjust="spacingAndGlyphs" >(1.063<tspan font-weight="normal" font-size="12.47" dy="-1.74" stroke="#111" stroke-width="0.35">″</tspan><tspan dy="1.74">)</tspan></text>
<text x="734.77" y="732.5" font-size="18.6" font-weight="bold" fill="#111" textLength="26.71" lengthAdjust="spacingAndGlyphs" >M7</text>
</svg>
</body></html>
